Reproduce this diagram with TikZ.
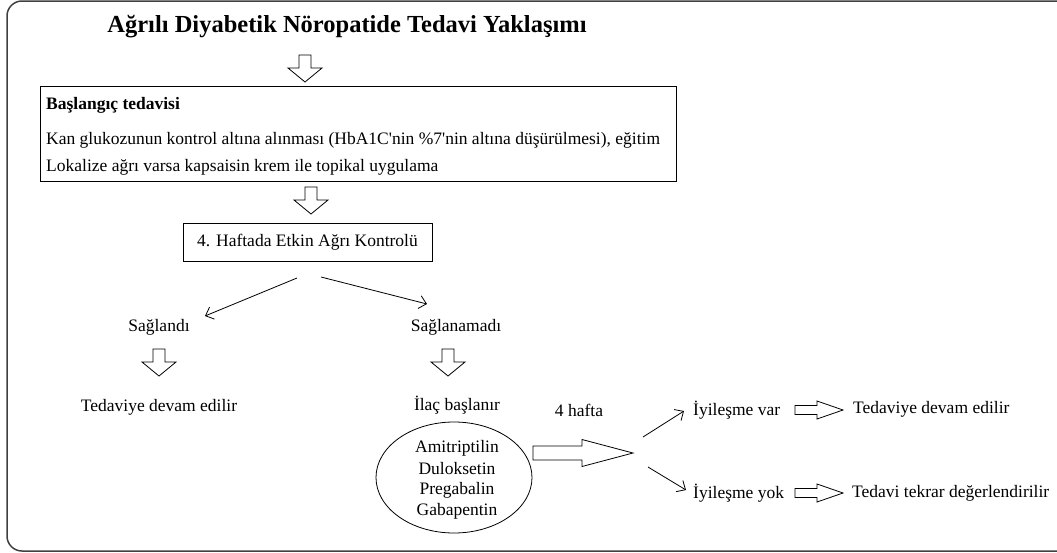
\documentclass[tikz,border=0pt]{standalone}
\usepackage{fontspec}
\setmainfont{Liberation Serif}
\usetikzlibrary{arrows.meta}
\tikzset{
  txt/.style={inner sep=0pt, font=\fontsize{17.5}{19}\selectfont},
  ttl/.style={inner sep=0pt, font=\fontsize{24.5}{27}\selectfont\bfseries},
  box/.style={draw, line width=1pt, inner sep=0pt},
  thinarr/.style={draw, line width=0.8pt, -{Straight Barb[length=7pt,width=13pt]}},
  blk/.style={draw, line width=0.8pt, fill=white, line join=miter},
  pics/downarr/.style={code={\draw[blk] (-6,0)--(6,0)--(6,13)--(17,13)--(0,27)--(-17,13)--(-6,13)--cycle;}},
  pics/rightarr/.style={code={\draw[blk] (0,-4.5)--(22,-4.5)--(22,-9)--(48,0)--(22,9)--(22,4.5)--(0,4.5)--cycle;}},
  pics/bigrightarr/.style={code={\draw[blk] (0,-7)--(49,-7)--(49,-13.5)--(100,0)--(49,13.5)--(49,7)--(0,7)--cycle;}}
}
\begin{document}
\begin{tikzpicture}[x=1pt,y=-1pt]
\useasboundingbox (0,0) rectangle (1057,552);
\begin{scope}
\clip (0,0) rectangle (1057,552);
\draw[line width=1.5pt, draw=black!75, rounded corners=15pt] (7,1) rectangle (1090,551);
\end{scope}

\node[ttl] (title) at (347,27) {Ağrılı Diyabetik Nöropatide Tedavi Yaklaşımı};
\pic at (305,55) {downarr};

\node[box, minimum width=636pt, minimum height=95pt] (b1) at (358,133.5) {};
\node[txt, anchor=base west, font=\fontsize{17.5}{19}\selectfont\bfseries] (b1a) at (46,109) {Başlangıç tedavisi};
\node[txt, anchor=base west] (b1b) at (46,144) {Kan glukozunun kontrol altına alınması (HbA1C\textquotesingle nin \%7\textquotesingle nin altına düşürülmesi), eğitim};
\node[txt, anchor=base west] (b1c) at (46,171) {Lokalize ağrı varsa kapsaisin krem ile topikal uygulama};

\pic at (311,187) {downarr};

\node[box, minimum width=249pt, minimum height=38pt] (b2) at (307.5,242) {};
\node[txt] (b2t) at (b2.center) {4. Haftada Etkin Ağrı Kontrolü};

\node[txt] (sag) at (159,327) {Sağlandı};
\node[txt] (sagn) at (456,327) {Sağlanamadı};
\coordinate (l1) at (297,278);
\coordinate (l2) at (205,316);
\coordinate (r1) at (321,277);
\coordinate (r2) at (427,304);
\draw[thinarr] (l1) -- (l2);
\draw[thinarr] (r1) -- (r2);

\pic at (159,349) {downarr};
\pic at (448,349) {downarr};

\node[txt] (ted1) at (159,407) {Tedaviye devam edilir};
\node[txt] (ilac) at (457,405) {İlaç başlanır};
\node[txt] (hafta) at (579,410) {4 hafta};

\draw[line width=0.8pt] (454,477.5) ellipse (78pt and 55.5pt);
\node[txt] (d1) at (457,448) {Amitriptilin};
\node[txt] (d2) at (457,469) {Duloksetin};
\node[txt] (d3) at (457,490) {Pregabalin};
\node[txt] (d4) at (457,511) {Gabapentin};

\pic at (533,453) {bigrightarr};

\node[txt, anchor=west] (iv) at (693,410) {İyileşme var};
\node[txt, anchor=west] (iy) at (693,493) {İyileşme yok};
\coordinate (u1) at (643,437);
\coordinate (u2) at (684,411);
\coordinate (dn1) at (648,467);
\coordinate (dn2) at (686,490);
\draw[thinarr] (u1) -- (u2);
\draw[thinarr] (dn1) -- (dn2);

\pic at (795,410) {rightarr};
\pic at (795,493) {rightarr};
\node[txt, anchor=west] (ted2) at (853,409) {Tedaviye devam edilir};
\node[txt, anchor=west] (ted3) at (852,493) {Tedavi tekrar değerlendirilir};
\end{tikzpicture}
\end{document}
